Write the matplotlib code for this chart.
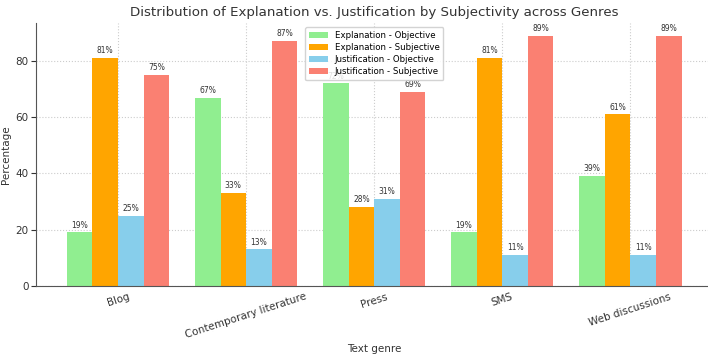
import numpy as np
import matplotlib.pyplot as plt

genres = ['Blog', 'Contemporary literature', 'Press', 'SMS', 'Web discussions']
expl_obj = [19, 67, 72, 19, 39]
expl_subj = [81, 33, 28, 81, 61]
just_obj = [25, 13, 31, 11, 11]
just_subj = [75, 87, 69, 89, 89]

series = [
    ('Explanation - Objective', expl_obj, 'lightgreen'),
    ('Explanation - Subjective', expl_subj, 'orange'),
    ('Justification - Objective', just_obj, 'skyblue'),
    ('Justification - Subjective', just_subj, 'salmon'),
]

fig = plt.figure(figsize=(7.08, 3.56), dpi=100)
ax = fig.add_axes([0.051, 0.197, 0.955, 0.738])

x = np.arange(len(genres))
width = 0.2
for i, (name, vals, color) in enumerate(series):
    pos = x + (i - 1.5) * width
    bars = ax.bar(pos, vals, width, label=name, color=color)
    for b, v in zip(bars, vals):
        ax.text(b.get_x() + b.get_width() / 2, v + 1, f"{v}%",
                ha='center', va='bottom', fontsize=5.5, color='#333333')

ax.set_xticks(x)
ax.set_xticklabels(genres, rotation=18, ha='center', fontsize=7.5, color='#333333')
ax.tick_params(axis='y', labelsize=7.5, colors='#333333', pad=2)
ax.tick_params(axis='x', length=0, pad=4)
ax.set_xlabel('Text genre', fontsize=7.5, color='#333333', labelpad=3)
ax.set_ylabel('Percentage', fontsize=7.5, color='#333333', labelpad=3)
ax.set_title('Distribution of Explanation vs. Justification by Subjectivity across Genres',
             fontsize=9.6, color='#333333', pad=5)
ax.grid(True, linestyle=':', color='#cccccc', linewidth=0.8)
ax.set_axisbelow(True)
for s in ['top', 'right']:
    ax.spines[s].set_visible(False)
for s in ['left', 'bottom']:
    ax.spines[s].set_color('#555555')

# legend sits over the Press group, half covering its first label
leg = ax.legend(loc='upper center', fontsize=6.2, bbox_to_anchor=(0.5, 1.0),
                handlelength=2.2, labelspacing=0.35, borderpad=0.45, framealpha=0.85)
leg.set_zorder(5)

fig.savefig('out.png', dpi=100)
